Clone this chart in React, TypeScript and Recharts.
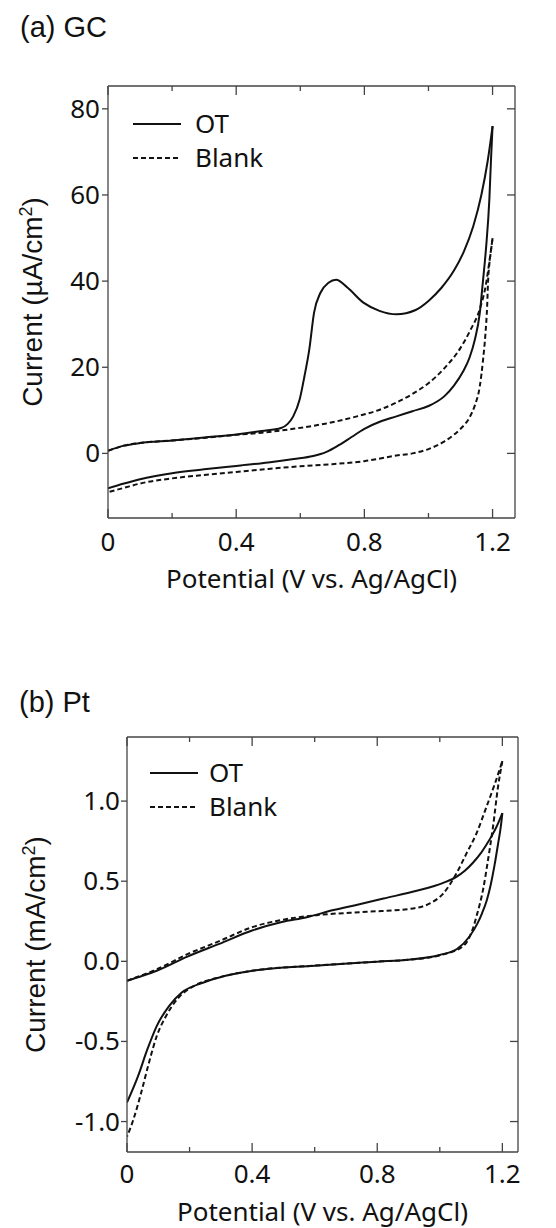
import React from 'react'
import { LineChart, Line, XAxis, YAxis, Legend } from 'recharts'

// (a) GC electrode, current in µA/cm². Forward sweep = anodic, reverse = back to 0 V.
const gcOtFwdV = [0, 0.05, 0.1, 0.2, 0.3, 0.4, 0.48, 0.54, 0.56, 0.578, 0.598, 0.613, 0.628, 0.643, 0.663, 0.688, 0.712, 0.747, 0.797, 0.847, 0.9, 0.96, 1.0, 1.04, 1.08, 1.11, 1.14, 1.165, 1.185, 1.2]
const gcOtFwdI = [0.6, 1.8, 2.4, 3.0, 3.7, 4.4, 5.2, 5.9, 6.8, 8.6, 12.5, 17.9, 24.1, 32.7, 37.3, 39.6, 40.3, 38.5, 35.0, 33.1, 32.3, 33.3, 35.4, 38.4, 42.5, 46.8, 52.8, 60.0, 68.0, 76.0]
const gcOtRevV = [1.2, 1.195, 1.19, 1.18, 1.17, 1.16, 1.145, 1.128, 1.108, 1.08, 1.05, 1.0, 0.95, 0.9, 0.85, 0.8, 0.76, 0.72, 0.68, 0.64, 0.58, 0.5, 0.4, 0.3, 0.2, 0.1, 0.05, 0]
const gcOtRevI = [76.0, 68, 59, 48, 40, 32.5, 26.5, 22.2, 19, 15.8, 13.3, 11, 9.8, 8.6, 7.4, 5.7, 3.8, 1.9, 0.3, -0.6, -1.3, -2.1, -2.9, -3.7, -4.6, -6.0, -7.0, -8.1]
const gcBlankFwdV = [0, 0.05, 0.1, 0.2, 0.3, 0.4, 0.48, 0.578, 0.678, 0.777, 0.85, 0.9, 0.95, 1.0, 1.05, 1.1, 1.13, 1.16, 1.18, 1.19, 1.2]
const gcBlankFwdI = [0.6, 1.8, 2.4, 3.0, 3.6, 4.3, 4.8, 5.7, 6.9, 8.6, 10.2, 11.8, 13.8, 16.3, 19.8, 24.5, 28.5, 33.5, 39.5, 44.5, 50]
const gcBlankRevV = [1.2, 1.195, 1.19, 1.186, 1.183, 1.178, 1.17, 1.16, 1.145, 1.13, 1.1, 1.077, 1.05, 1.0, 0.95, 0.9, 0.8, 0.7, 0.6, 0.5, 0.4, 0.3, 0.2, 0.1, 0.05, 0]
const gcBlankRevI = [50, 47, 44, 40, 34, 28, 21.5, 15.5, 11.2, 8.6, 5.7, 4.2, 2.8, 1.0, 0, -0.5, -1.8, -2.5, -3.0, -3.6, -4.3, -5.0, -5.8, -7.0, -8.0, -9.0]

// (b) Pt electrode, current in mA/cm²
const ptOtFwdV = [0, 0.05, 0.095, 0.195, 0.295, 0.4, 0.495, 0.575, 0.66, 0.74, 0.82, 0.926, 1.011, 1.053, 1.08, 1.106, 1.13, 1.149, 1.167, 1.181, 1.2]
const ptOtFwdI = [-0.121, -0.09, -0.059, 0.031, 0.109, 0.192, 0.245, 0.275, 0.32, 0.355, 0.392, 0.44, 0.49, 0.527, 0.565, 0.615, 0.672, 0.728, 0.786, 0.838, 0.925]
const ptOtRevV = [1.2, 1.195, 1.186, 1.175, 1.163, 1.15, 1.135, 1.12, 1.095, 1.055, 1.0, 0.9, 0.8, 0.6, 0.4, 0.315, 0.245, 0.175, 0.135, 0.095, 0.065, 0.035, 0]
const ptOtRevI = [0.925, 0.84, 0.73, 0.6, 0.48, 0.38, 0.3, 0.235, 0.155, 0.077, 0.04, 0.01, -0.002, -0.027, -0.059, -0.09, -0.132, -0.195, -0.278, -0.404, -0.55, -0.718, -0.881]
const ptBlankFwdV = [0, 0.05, 0.095, 0.195, 0.3, 0.4, 0.5, 0.606, 0.766, 0.915, 0.968, 1.011, 1.053, 1.085, 1.117, 1.149, 1.176, 1.2]
const ptBlankFwdI = [-0.121, -0.085, -0.05, 0.046, 0.13, 0.213, 0.26, 0.288, 0.309, 0.33, 0.361, 0.423, 0.548, 0.672, 0.797, 0.963, 1.108, 1.25]
const ptBlankRevV = [1.2, 1.186, 1.17, 1.154, 1.138, 1.12, 1.105, 1.075, 1.0, 0.9, 0.8, 0.6, 0.4, 0.295, 0.215, 0.165, 0.125, 0.095, 0.07, 0.045, 0.02, 0]
const ptBlankRevI = [1.25, 1.087, 0.838, 0.631, 0.444, 0.3, 0.2, 0.095, 0.038, 0.01, -0.002, -0.027, -0.059, -0.1, -0.153, -0.226, -0.341, -0.467, -0.634, -0.822, -0.99, -1.094]

const xTicks = [0, 0.2, 0.4, 0.6, 0.8, 1.0, 1.2]
const gcYTicks = [0, 20, 40, 60, 80]
const ptYTicks = [-1.0, -0.5, 0.0, 0.5, 1.0]

const seriesNames = ['OT', 'Blank']

const INK = '#111'
const FRAME = '#444'
const TICK_FONT = '"Noto Sans", "Open Sans", sans-serif'
const LABEL_FONT = '"Liberation Sans", Arial, sans-serif'
const DASH = '5 3'

const pts = (v: number[], i: number[]) => v.map((x, k) => ({ v: x, i: i[k] }))

// x labels only on every other tick (0, 0.4, 0.8, 1.2)
const isMajorX = (v: number) => Math.round(v / 0.2) % 2 === 0
const fmtX = (v: number) => (v === 0 ? '0' : v.toFixed(1))

function BottomTick(props: any) {
  const { x, y, payload } = props
  const major = isMajorX(payload.value)
  return (
    <g>
      <line x1={x} x2={x} y1={y} y2={y - (major ? 9 : 5)} stroke={FRAME} strokeWidth={1.3} />
      {major && (
        <text x={x} y={y + props.labelGap} textAnchor="middle" fill={INK}
          style={{ fontFamily: TICK_FONT, fontSize: 26 }}>{fmtX(payload.value)}</text>
      )}
    </g>
  )
}

function TopTick(props: any) {
  const { x, y, payload } = props
  const major = isMajorX(payload.value)
  return <line x1={x} x2={x} y1={y} y2={y + (major ? 9 : 5)} stroke={FRAME} strokeWidth={1.3} />
}

function LeftTick(props: any) {
  const { x, y, payload } = props
  return (
    <g>
      <line x1={x - 6} x2={x} y1={y} y2={y} stroke={FRAME} strokeWidth={1.3} />
      <text x={x - props.labelGap} y={y + 9} textAnchor="end" fill={INK}
        style={{ fontFamily: TICK_FONT, fontSize: 26 }}>{props.fmt(payload.value)}</text>
    </g>
  )
}

function RightTick(props: any) {
  const { x, y } = props
  return <line x1={x - 8} x2={x} y1={y} y2={y} stroke={FRAME} strokeWidth={1.3} />
}

function CvLegend({ payload, textX }: any) {
  const items = (payload || [])
    .filter((p: any) => seriesNames.includes(p.value))
    .sort((a: any, b: any) => seriesNames.indexOf(a.value) - seriesNames.indexOf(b.value))
  return (
    <svg width={180} height={76} style={{ overflow: 'visible' }}>
      {items.map((p: any, k: number) => (
        <g key={p.value}>
          <line x1={0} x2={48} y1={24 + 34 * k} y2={24 + 34 * k} stroke={INK} strokeWidth={2}
            strokeDasharray={p.value === 'Blank' ? DASH : undefined} />
          <text x={textX} y={33 + 34 * k} fill={INK} style={{ fontFamily: TICK_FONT, fontSize: 26 }}>{p.value}</text>
        </g>
      ))}
    </svg>
  )
}

function YTitle({ viewBox, unit, bx }: any) {
  const cy = viewBox.y + viewBox.height / 2
  return (
    <text x={bx} y={cy} transform={`rotate(-90 ${bx} ${cy})`} textAnchor="middle" fill={INK}
      style={{ fontFamily: LABEL_FONT, fontSize: 28 }}>
      Current ({unit}/cm<tspan baseline-shift="super" fontSize={18}>2</tspan>)
    </text>
  )
}

function XTitle({ viewBox, gap }: any) {
  return (
    <text x={viewBox.x + viewBox.width / 2} y={viewBox.y + gap} textAnchor="middle" fill={INK}
      style={{ fontFamily: TICK_FONT, fontSize: 26 }}>
      Potential (V vs. Ag/AgCl)
    </text>
  )
}

type PanelProps = {
  top: number
  margin: { top: number; right: number; bottom: number; left: number }
  xHeight: number
  xDomain: [number, number]
  yDomain: [number, number]
  yTicks: number[]
  fmtY: (v: number) => string
  unit: string
  yTitleX: number
  tickGap: number
  xTitleGap: number
  yLabelGap: number
  legendPos: { left: number; top: number }
  legendTextX: number
  fwd: { v: number; i: number }[][]
  rev: { v: number; i: number }[][]
}

// reverse sweeps are bound to the mirrored top/right axes (same domains) so those axes draw the frame
function Panel(p: PanelProps) {
  return (
    <div style={{ position: 'absolute', left: 0, top: p.top }}>
      <LineChart width={556} height={600} margin={p.margin}>
        <XAxis xAxisId="bottom" dataKey="v" type="number" domain={p.xDomain} allowDataOverflow
          ticks={xTicks} interval={0} height={p.xHeight} tickSize={0} tickMargin={0} tickLine={false}
          axisLine={{ stroke: FRAME, strokeWidth: 1.3 }}
          tick={<BottomTick labelGap={p.tickGap} />}
          label={<XTitle gap={p.xTitleGap} />} />
        <XAxis xAxisId="top" orientation="top" dataKey="v" type="number" domain={p.xDomain} allowDataOverflow
          ticks={xTicks} interval={0} height={1} tickSize={0} tickMargin={0} tickLine={false}
          axisLine={{ stroke: FRAME, strokeWidth: 1.3 }} tick={<TopTick />} />
        <YAxis yAxisId="left" type="number" domain={p.yDomain} allowDataOverflow ticks={p.yTicks} interval={0}
          width={60} tickSize={0} tickMargin={0} tickLine={false}
          axisLine={{ stroke: FRAME, strokeWidth: 1.3 }}
          tick={<LeftTick fmt={p.fmtY} labelGap={p.yLabelGap} />}
          label={<YTitle unit={p.unit} bx={p.yTitleX} />} />
        <YAxis yAxisId="right" orientation="right" type="number" domain={p.yDomain} allowDataOverflow
          ticks={p.yTicks} interval={0} width={1} tickSize={0} tickMargin={0} tickLine={false}
          axisLine={{ stroke: FRAME, strokeWidth: 1.3 }} tick={<RightTick />} />
        <Legend layout="vertical" align="center" verticalAlign="middle"
          wrapperStyle={{ position: 'absolute', left: p.legendPos.left, top: p.legendPos.top, width: 180, height: 76 }}
          content={<CvLegend textX={p.legendTextX} />} />
        {seriesNames.map((name, k) => (
          <Line key={name + 'f'} xAxisId="bottom" yAxisId="left" data={p.fwd[k]} dataKey="i" name={name}
            type="monotone" dot={false} stroke={INK} strokeWidth={2}
            strokeDasharray={name === 'Blank' ? DASH : undefined} isAnimationActive={false} />
        ))}
        {seriesNames.map((name, k) => (
          <Line key={name + 'r'} xAxisId="top" yAxisId="right" data={p.rev[k]} dataKey="i"
            name={name + ' (reverse)'} legendType="none" type="monotone" dot={false} stroke={INK} strokeWidth={2}
            strokeDasharray={name === 'Blank' ? DASH : undefined} isAnimationActive={false} />
        ))}
      </LineChart>
    </div>
  )
}

const titleStyle: React.CSSProperties = {
  position: 'absolute', fontFamily: LABEL_FONT, fontSize: 29, lineHeight: '29px', color: INK, whiteSpace: 'nowrap',
}

export default function App() {
  return (
    <div style={{ position: 'absolute', left: 0, top: 0, width: 556, height: 1228, background: '#fff', overflow: 'hidden' }}>
      <div style={{ ...titleStyle, left: 20, top: 13 }}>(a) GC</div>
      <Panel
        top={0}
        margin={{ top: 85, right: 40, bottom: 0, left: 48 }}
        xHeight={82}
        xDomain={[0, 1.27]}
        yDomain={[-15, 85.3]}
        yTicks={gcYTicks}
        fmtY={(v) => String(v)}
        unit="µA"
        yTitleX={42}
        tickGap={33}
        xTitleGap={70}
        yLabelGap={8}
        legendPos={{ left: 133, top: 100 }}
        legendTextX={62}
        fwd={[pts(gcOtFwdV, gcOtFwdI), pts(gcBlankFwdV, gcBlankFwdI)]}
        rev={[pts(gcOtRevV, gcOtRevI), pts(gcBlankRevV, gcBlankRevI)]}
      />
      <div style={{ ...titleStyle, left: 19, top: 688 }}>(b) Pt</div>
      <Panel
        top={628}
        margin={{ top: 108, right: 37, bottom: 0, left: 67 }}
        xHeight={76}
        xDomain={[0, 1.25]}
        yDomain={[-1.19, 1.4]}
        yTicks={ptYTicks}
        fmtY={(v) => v.toFixed(1)}
        unit="mA"
        yTitleX={45}
        tickGap={31}
        xTitleGap={69}
        yLabelGap={7}
        legendPos={{ left: 150, top: 121 }}
        legendTextX={59}
        fwd={[pts(ptOtFwdV, ptOtFwdI), pts(ptBlankFwdV, ptBlankFwdI)]}
        rev={[pts(ptOtRevV, ptOtRevI), pts(ptBlankRevV, ptBlankRevI)]}
      />
    </div>
  )
}
